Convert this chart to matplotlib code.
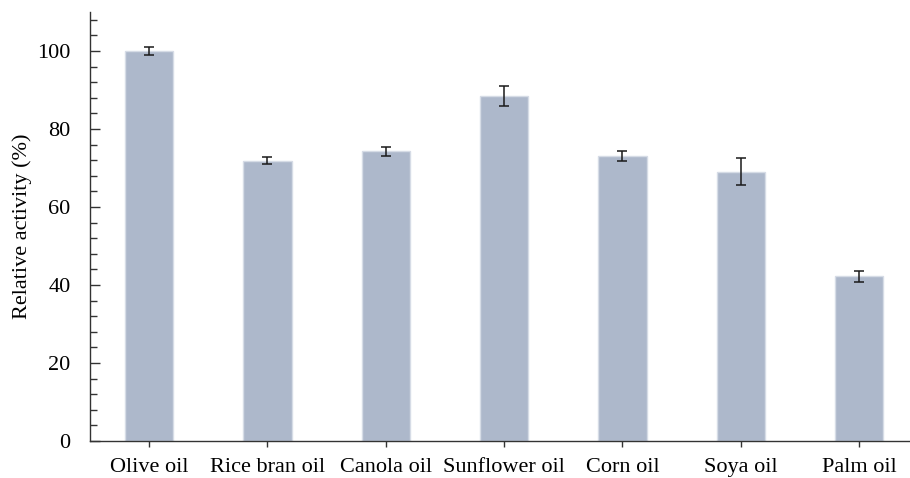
import matplotlib
matplotlib.use("Agg")
import matplotlib.pyplot as plt
from matplotlib.ticker import MultipleLocator

categories = ["Olive oil", "Rice bran oil", "Canola oil", "Sunflower oil", "Corn oil", "Soya oil", "Palm oil"]
values = [100.0, 71.9, 74.3, 88.5, 73.1, 69.1, 42.2]
errors = [1.0, 1.0, 1.2, 2.6, 1.2, 3.4, 1.5]

plt.rcParams['font.family'] = ['Liberation Serif', 'DejaVu Serif']

fig = plt.figure(figsize=(9.1, 4.78), dpi=100)
ax = fig.add_axes([90/910, 1-441/478, 1-90/910, (441-12)/478])

x = list(range(len(categories)))
ax.bar(x, values, width=0.41, color='#adb8cb', edgecolor='#d6dce6', linewidth=1.0, zorder=2)
ax.errorbar(x, values, yerr=errors, fmt='none', ecolor='#1a1a1a', elinewidth=1.1, capsize=3.7, capthick=1.1, zorder=3)

ax.set_xlim(-0.5, 6.43)
ax.set_ylim(0, 110)
ax.yaxis.set_major_locator(MultipleLocator(20))
ax.yaxis.set_minor_locator(MultipleLocator(4))
ax.set_xticks(x)
ax.set_xticklabels(categories)

for s in ['top', 'right']:
    ax.spines[s].set_visible(False)
for s in ['left', 'bottom']:
    ax.spines[s].set_color('#333333')
    ax.spines[s].set_linewidth(1.0)

ax.tick_params(axis='y', which='major', direction='in', length=7, width=1.0, color='#333333', labelsize=16, pad=14)
ax.tick_params(axis='y', which='minor', direction='in', length=5, width=1.0, color='#333333')
ax.tick_params(axis='x', which='major', direction='inout', length=8, width=1.0, color='#333333', labelsize=16, pad=8)

ax.set_ylabel("Relative activity (%)", fontsize=16, labelpad=4)

fig.savefig("out.png", dpi=100)
